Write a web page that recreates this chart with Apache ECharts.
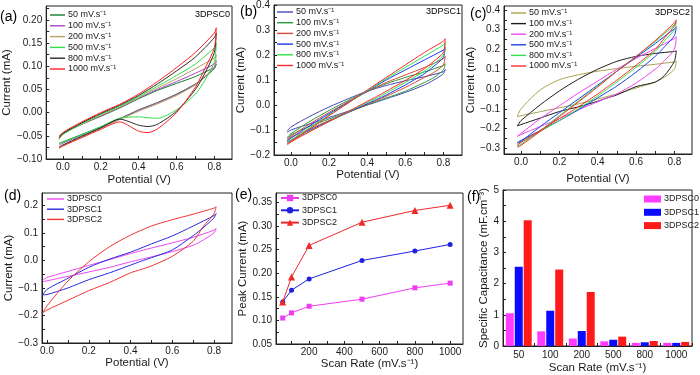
<!DOCTYPE html>
<html><head><meta charset="utf-8">
<script src="https://cdn.jsdelivr.net/npm/echarts@6/dist/echarts.min.js"></script>
<style>html,body{margin:0;padding:0;background:#fff}#c{width:700px;height:375px}</style>
</head><body><div id="c"></div>
<script>
// ---------- DATA ----------
// CV potentials: forward sweep and reverse sweep (V)
const potF = [-0.02, 0, 0.1, 0.2, 0.3, 0.4, 0.5, 0.6, 0.7, 0.8, 0.81];
const potR = [0.8, 0.75, 0.7, 0.6, 0.5, 0.45, 0.4, 0.3, 0.2, 0.1, 0, -0.02];
const rates = ['50', '100', '200', '500', '800', '1000'];

// (a) 3DPSC0 currents (mA)
const a50F  = [-0.05,-0.044,-0.025,-0.008,0.01,0.03,0.048,0.063,0.078,0.098,0.105];
const a50R  = [0.095,0.077,0.062,0.04,0.022,0.014,0.006,-0.013,-0.031,-0.047,-0.063,-0.066];
const a100F = [-0.052,-0.045,-0.025,-0.007,0.011,0.031,0.05,0.067,0.085,0.105,0.112];
const a100R = [0.097,0.077,0.061,0.039,0.021,0.013,0.005,-0.014,-0.032,-0.049,-0.066,-0.07];
const a200F = [-0.055,-0.046,-0.025,-0.006,0.012,0.032,0.053,0.073,0.095,0.118,0.125];
const a200R = [0.1,0.078,0.06,0.037,0.019,0.011,0.003,-0.015,-0.034,-0.052,-0.07,-0.074];
const a500F = [-0.058,-0.047,-0.024,-0.004,0.014,0.034,0.057,0.08,0.105,0.14,0.15];
const a500R = [0.11,0.07,0.04,0.006,-0.012,-0.011,-0.009,-0.012,-0.03,-0.048,-0.064,-0.067];
const a800F = [-0.055,-0.045,-0.022,-0.002,0.016,0.037,0.062,0.09,0.12,0.162,0.172];
const a800R = [0.13,0.085,0.05,0.003,-0.025,-0.03,-0.027,-0.014,-0.033,-0.051,-0.07,-0.075];
const a1000F = [-0.055,-0.043,-0.02,0,0.018,0.04,0.067,0.097,0.13,0.172,0.183];
const a1000R = [0.14,0.095,0.055,0.0,-0.035,-0.043,-0.04,-0.02,-0.036,-0.054,-0.072,-0.077];

// (b) 3DPSC1
const b50F  = [-0.105,-0.088,-0.045,-0.008,0.025,0.055,0.078,0.097,0.113,0.133,0.142];
const b50R  = [0.125,0.1,0.08,0.05,0.025,0.012,0.0,-0.025,-0.05,-0.075,-0.1,-0.11];
const b100F = [-0.13,-0.115,-0.065,-0.022,0.018,0.055,0.085,0.11,0.132,0.158,0.165];
const b100R = [0.14,0.11,0.09,0.055,0.028,0.014,0.0,-0.028,-0.056,-0.085,-0.12,-0.135];
const b200F = [-0.14,-0.125,-0.075,-0.03,0.013,0.053,0.09,0.12,0.15,0.185,0.195];
const b200R = [0.16,0.13,0.11,0.07,0.035,0.018,0.002,-0.03,-0.062,-0.095,-0.13,-0.145];
const b500F = [-0.145,-0.132,-0.082,-0.035,0.01,0.055,0.1,0.14,0.18,0.22,0.23];
const b500R = [0.19,0.155,0.125,0.08,0.04,0.022,0.005,-0.03,-0.065,-0.1,-0.14,-0.15];
const b800F = [-0.15,-0.14,-0.09,-0.04,0.008,0.057,0.105,0.15,0.195,0.24,0.25];
const b800R = [0.2,0.165,0.135,0.09,0.048,0.028,0.01,-0.028,-0.066,-0.105,-0.145,-0.155];
const b1000F = [-0.155,-0.145,-0.095,-0.043,0.008,0.06,0.11,0.16,0.21,0.255,0.265];
const b1000R = [0.21,0.175,0.145,0.098,0.055,0.034,0.014,-0.026,-0.066,-0.106,-0.148,-0.16];

// (c) 3DPSC2
const c50F  = [-0.14,-0.1,-0.005,0.047,0.072,0.09,0.103,0.115,0.125,0.137,0.14];
const c50R  = [0.1,0.06,0.035,0.005,-0.025,-0.038,-0.05,-0.075,-0.095,-0.115,-0.135,-0.14];
const c100F = [-0.187,-0.16,-0.08,-0.01,0.05,0.1,0.14,0.165,0.18,0.19,0.193];
const c100R = [0.14,0.07,0.035,0.012,-0.03,-0.045,-0.062,-0.09,-0.114,-0.147,-0.18,-0.187];
const c200F = [-0.24,-0.225,-0.15,-0.085,-0.02,0.04,0.1,0.155,0.205,0.255,0.265];
const c200R = [0.2,0.145,0.1,0.03,-0.025,-0.045,-0.065,-0.105,-0.15,-0.19,-0.23,-0.24];
const c500F = [-0.275,-0.265,-0.19,-0.12,-0.05,0.02,0.09,0.16,0.23,0.305,0.315];
const c500R = [0.27,0.215,0.165,0.085,0.015,-0.015,-0.045,-0.105,-0.16,-0.21,-0.26,-0.27];
const c800F = [-0.29,-0.28,-0.21,-0.135,-0.06,0.015,0.09,0.165,0.24,0.325,0.34];
const c800R = [0.3,0.245,0.19,0.11,0.035,0.0,-0.035,-0.1,-0.16,-0.215,-0.27,-0.285];
const c1000F = [-0.295,-0.285,-0.215,-0.14,-0.065,0.01,0.09,0.165,0.245,0.335,0.35];
const c1000R = [0.32,0.26,0.2,0.12,0.045,0.01,-0.025,-0.09,-0.15,-0.21,-0.27,-0.285];

// (d) comparison at one scan rate
const d0F = [-0.072,-0.062,-0.04,-0.018,0.003,0.025,0.045,0.064,0.084,0.11,0.116];
const d0R = [0.1,0.075,0.055,0.032,0.013,0.004,-0.005,-0.025,-0.042,-0.058,-0.074,-0.078];
const d1F = [-0.125,-0.105,-0.065,-0.025,0.005,0.03,0.06,0.089,0.125,0.163,0.17];
const d1R = [0.155,0.12,0.09,0.038,0.01,-0.003,-0.017,-0.045,-0.07,-0.1,-0.124,-0.125];
const d2F = [-0.19,-0.165,-0.075,-0.005,0.05,0.092,0.125,0.148,0.168,0.19,0.195];
const d2R = [0.17,0.125,0.07,0.015,-0.02,-0.033,-0.045,-0.08,-0.11,-0.145,-0.18,-0.19];

// (e) peak current vs scan rate
const scanRate = [50, 100, 200, 500, 800, 1000];
const peak0 = [0.105, 0.116, 0.130, 0.145, 0.169, 0.179];
const peak1 = [0.139, 0.164, 0.188, 0.227, 0.247, 0.261];
const peak2 = [0.139, 0.192, 0.259, 0.308, 0.333, 0.344];

// (f) specific capacitance
const capCats = ['50', '100', '200', '500', '800', '1000'];
const cap0 = [1.05, 0.47, 0.24, 0.15, 0.10, 0.10];
const cap1 = [2.54, 1.13, 0.48, 0.20, 0.12, 0.10];
const cap2 = [4.03, 2.45, 1.73, 0.30, 0.16, 0.13];

const sampleNames = ['3DPSC0', '3DPSC1', '3DPSC2'];

// ---------- BUILD ----------
const FONT = 'Liberation Sans';
const NARROW = '"Liberation Sans Narrow", "Liberation Sans", Arial';
const TXT = '#1a1a1a';
function loop(f, r) { return potF.map((v, i) => [v, f[i]]).concat(potR.map((v, i) => [v, r[i]])); }
function rng(a, b, s) { const o = []; for (let k = 0; a + k * s <= b + 1e-9; k++) o.push(+(a + k * s).toFixed(4)); return o; }
function fmt(d) { return v => (v < 0 ? '\u2212' : '') + Math.abs(v).toFixed(d); }

const axLine = { show: true, onZero: false, lineStyle: { color: '#222', width: 1 } };
function vAxis(gi, min, max, labels, ticks, dec, name, nameGap, isX, extra) {
  return Object.assign({
    type: 'value', gridIndex: gi, min, max, scale: true,
    name, nameLocation: 'middle', nameGap,
    nameTextStyle: { fontFamily: NARROW, fontSize: 11.5, color: TXT },
    axisLine: axLine, splitLine: { show: false },
    axisTick: { show: true, inside: true, length: 3, customValues: ticks, lineStyle: { color: '#222' } },
    axisLabel: { customValues: labels, formatter: fmt(dec), fontFamily: FONT, fontSize: 10, color: TXT, margin: isX ? 3 : 4 }
  }, extra || {});
}

const grids = [
  { left: 43, top: 6, width: 189, height: 153 },
  { left: 274, top: 5, width: 188, height: 150 },
  { left: 504, top: 6, width: 188, height: 148 },
  { left: 42, top: 193, width: 190, height: 150 },
  { left: 276, top: 193, width: 187, height: 151 },
  { left: 503, top: 190, width: 189, height: 157 }
].map(g => Object.assign({ show: true, borderColor: '#222', borderWidth: 1, containLabel: false }, g));

const potLbl = [0, 0.2, 0.4, 0.6, 0.8];
const potTk = rng(0, 0.8, 0.1);
const xAxes = [
  vAxis(0, -0.088, 0.893, potLbl, potTk, 1, 'Potential (V)', 15, true),
  vAxis(1, -0.089, 0.898, potLbl, potTk, 1, 'Potential (V)', 13, true),
  vAxis(2, -0.089, 0.892, potLbl, potTk, 1, 'Potential (V)', 19, true),
  vAxis(3, -0.024, 0.886, potLbl, potTk, 1, 'Potential (V)', 14, true),
  vAxis(4, 12, 1073, rng(200, 1000, 200), rng(100, 1000, 100), 0, 'Scan Rate (mV.s\u207B\u00B9)', 14, true),
  { type: 'category', gridIndex: 5, data: capCats, name: 'Scan Rate (mV.s\u207B\u00B9)', nameLocation: 'middle', nameGap: 16,
    nameTextStyle: { fontFamily: NARROW, fontSize: 11.5, color: TXT }, axisLine: axLine,
    axisTick: { show: true, inside: true, length: 3, lineStyle: { color: '#222' } },
    axisLabel: { fontFamily: FONT, fontSize: 10, color: TXT, margin: 4 } }
];
const yAxes = [
  vAxis(0, -0.1, 0.23, rng(-0.1, 0.2, 0.05), rng(-0.1, 0.225, 0.025), 2, 'Current (mA)', 28, false),
  vAxis(1, -0.2, 0.4, rng(-0.2, 0.4, 0.1), rng(-0.2, 0.4, 0.05), 1, 'Current (mA)', 22, false),
  vAxis(2, -0.329, 0.42, rng(-0.3, 0.4, 0.1), rng(-0.3, 0.4, 0.05), 1, 'Current (mA)', 22, false),
  vAxis(3, -0.3, 0.245, rng(-0.3, 0.2, 0.1), rng(-0.3, 0.2, 0.05), 1, 'Current (mA)', 25, false),
  vAxis(4, 0.05, 0.37, rng(0.05, 0.35, 0.05), rng(0.05, 0.35, 0.025), 2, 'Peak Current (mA)', 26, false),
  vAxis(5, 0, 5, rng(0, 5, 1), rng(0, 5, 0.5), 0, 'Specific Capacitance (mF.cm\u207B\u00B3)', 8, false)
];

const series = [];
const legendMap = {};
function cv(panel, key, name, F, R, color, gi) {
  const id = panel + key;
  legendMap[id] = name;
  series.push({ type: 'line', name: id, xAxisIndex: gi, yAxisIndex: gi, data: loop(F, R), symbol: 'none',
    smooth: 0.25, lineStyle: { width: 1, color }, itemStyle: { color }, animation: false });
  return id;
}
const sup = ' mV.s\u207B\u00B9';
const colA = ['#12802a', '#a845c8', '#b8a060', '#2fe04a', '#2a2a2a', '#ff2020'];
const colB = ['#4a48b8', '#2a9a3a', '#d04a3a', '#1a38e8', '#30e050', '#ff2a2a'];
const colC = ['#a8a450', '#1e1e1e', '#f048f0', '#2040e0', '#30e050', '#ff3030'];
const dataA = [[a50F, a50R], [a100F, a100R], [a200F, a200R], [a500F, a500R], [a800F, a800R], [a1000F, a1000R]];
const dataB = [[b50F, b50R], [b100F, b100R], [b200F, b200R], [b500F, b500R], [b800F, b800R], [b1000F, b1000R]];
const dataC = [[c50F, c50R], [c100F, c100R], [c200F, c200R], [c500F, c500R], [c800F, c800R], [c1000F, c1000R]];
const legA = rates.map((r, i) => cv('a', r, r + sup, dataA[i][0], dataA[i][1], colA[i], 0));
const legB = rates.map((r, i) => cv('b', r, r + sup, dataB[i][0], dataB[i][1], colB[i], 1));
const legC = rates.map((r, i) => cv('c', r, r + sup, dataC[i][0], dataC[i][1], colC[i], 2));
const colD = ['#f048f0', '#2a2ae0', '#f03535'];
const dataD = [[d0F, d0R], [d1F, d1R], [d2F, d2R]];
const legD = sampleNames.map((s, i) => cv('d', s, s, dataD[i][0], dataD[i][1], colD[i], 3));

const colE = ['#f03cf0', '#1e22e0', '#f02828'];
const symE = ['rect', 'circle', 'triangle'];
const peaks = [peak0, peak1, peak2];
const legE = sampleNames.map((s, i) => {
  const id = 'e' + s; legendMap[id] = s;
  series.push({ type: 'line', name: id, xAxisIndex: 4, yAxisIndex: 4, data: scanRate.map((x, k) => [x, peaks[i][k]]),
    symbol: symE[i], symbolSize: i === 2 ? 7 : 5, lineStyle: { width: 1, color: colE[i] }, itemStyle: { color: colE[i] }, animation: false });
  return id;
});
const colF = ['#ff3cff', '#0a0aff', '#ff1a1a'];
const caps = [cap0, cap1, cap2];
const legF = sampleNames.map((s, i) => {
  const id = 'f' + s; legendMap[id] = s;
  series.push({ type: 'bar', name: id, xAxisIndex: 5, yAxisIndex: 5, data: caps[i], barWidth: 8, barGap: '12%',
    itemStyle: { color: colF[i] }, animation: false });
  return id;
});

function leg(data, left, top, iw, ih, gap, extra) {
  return Object.assign({ data, left, top, orient: 'vertical', itemWidth: iw, itemHeight: ih, itemGap: gap, padding: 0,
    selectedMode: false, formatter: n => legendMap[n],
    textStyle: { fontFamily: FONT, fontSize: 9, color: TXT, lineHeight: 10, padding: [0, 0, 0, -2] } }, extra || {});
}
const lineIcon = 'rect';
const legends = [
  leg(legA, 50, 10, 15, 1.4, 0.8, { icon: lineIcon }),
  leg(legB, 277, 7, 16, 1.4, 0.7, { icon: lineIcon }),
  leg(legC, 511, 8, 15, 1.4, 0.6, { icon: lineIcon }),
  leg(legD, 47, 194, 17, 1.4, 0.2, { icon: lineIcon }),
  leg(legE, 280, 193, 18, 8, 2.3),
  leg(legF, 644, 194, 17, 7, 3.3, { icon: 'rect' })
];

function txt(t, x, y, size, align) {
  return { type: 'text', style: { text: t, x, y, fill: '#000', font: size + 'px ' + FONT, align: align || 'left', verticalAlign: 'middle' } };
}
const graphics = [
  txt('(a)', 0, 17.5, 14), txt('(b)', 240, 12.5, 14), txt('(c)', 470, 14, 14),
  txt('(d)', 4, 196, 14), txt('(e)', 235, 195, 14), txt('(f)', 467, 197, 14),
  txt('3DPSC0', 230, 15, 9, 'right'), txt('3DPSC1', 461, 12, 9, 'right'), txt('3DPSC2', 690, 13, 9, 'right')
];

const chart = echarts.init(document.getElementById('c'), null, { renderer: 'canvas' });
chart.setOption({
  animation: false,
  backgroundColor: '#fff',
  grid: grids, xAxis: xAxes, yAxis: yAxes, series, legend: legends, graphic: graphics
});
</script></body></html>
